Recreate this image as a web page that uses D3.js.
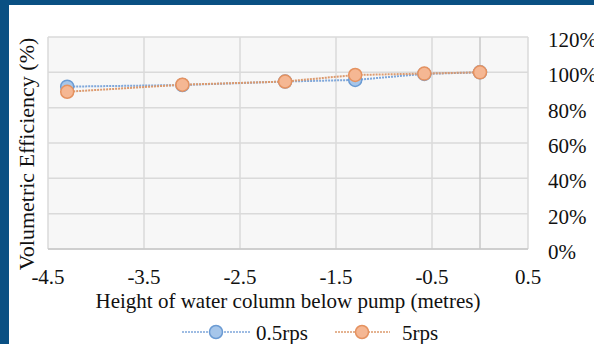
<!DOCTYPE html>
<html>
<head>
<meta charset="utf-8">
<script src="https://cdn.jsdelivr.net/npm/d3@7"></script>
<style>
  body { margin: 0; background: #fff; }
  text { font-family: "Liberation Serif", "Times New Roman", serif; fill: #111; }
</style>
</head>
<body>
<div id="chart"></div>
<script>
// chart data
var heights = [-4.3, -3.1, -2.03, -1.3, -0.58, 0];
var eff05 = [91.9, 92.8, 94.8, 95.7, 99.1, 100];
var eff5 = [89.0, 93.0, 94.8, 98.5, 99.3, 100];
var xTicks = [-4.5, -3.5, -2.5, -1.5, -0.5, 0.5];
var yTicks = [0, 20, 40, 60, 80, 100, 120];
var seriesNames = ["0.5rps", "5rps"];

var W = 594, H = 344;
var plot = {left: 48, right: 528, top: 37, bottom: 249};

var svg = d3.select("#chart").append("svg")
  .attr("width", W)
  .attr("height", H);

// blue frame (left + top)
svg.append("rect").attr("x", 0).attr("y", 0).attr("width", W).attr("height", H).attr("fill", "#0a5083");
svg.append("rect").attr("x", 9).attr("y", 5).attr("width", W - 9).attr("height", H - 5).attr("fill", "#fff");

var x = d3.scaleLinear().domain([-4.5, 0.5]).range([plot.left, plot.right]);
var y = d3.scaleLinear().domain([0, 120]).range([plot.bottom, plot.top]);

// plot background
svg.append("rect")
  .attr("x", plot.left).attr("y", plot.top)
  .attr("width", plot.right - plot.left).attr("height", plot.bottom - plot.top)
  .attr("fill", "#f7f7f7");

// gridlines
svg.append("g").selectAll("line").data(yTicks).enter().append("line")
  .attr("x1", plot.left).attr("x2", plot.right)
  .attr("y1", d => y(d)).attr("y2", d => y(d))
  .attr("stroke", "#dadada").attr("stroke-width", 1.5);
svg.append("g").selectAll("line").data(xTicks).enter().append("line")
  .attr("x1", d => x(d)).attr("x2", d => x(d))
  .attr("y1", plot.top).attr("y2", plot.bottom)
  .attr("stroke", "#dadada").attr("stroke-width", 1.5);

// value axis line crosses at 0, bottom axis line
svg.append("line")
  .attr("x1", x(0)).attr("x2", x(0)).attr("y1", plot.top).attr("y2", plot.bottom)
  .attr("stroke", "#c8c8c8").attr("stroke-width", 1.5);
svg.append("line")
  .attr("x1", plot.left).attr("x2", plot.right).attr("y1", y(0)).attr("y2", y(0))
  .attr("stroke", "#c8c8c8").attr("stroke-width", 1.5);

// tick labels (plain hyphen for minus, like the original)
svg.append("g").selectAll("text").data(xTicks).enter().append("text")
  .attr("x", d => x(d)).attr("y", 284)
  .attr("text-anchor", "middle")
  .style("font-size", "21px")
  .text(d => d.toFixed(1));

svg.append("g").selectAll("text").data(yTicks).enter().append("text")
  .attr("x", 548).attr("y", d => y(d) + 10)
  .style("font-size", "21px")
  .text(d => d + "%");

// axis titles
svg.append("text")
  .attr("x", (plot.left + plot.right) / 2).attr("y", 308)
  .attr("text-anchor", "middle")
  .style("font-size", "21px")
  .text("Height of water column below pump (metres)");

svg.append("text")
  .attr("transform", "translate(34,154) rotate(-90)")
  .attr("text-anchor", "middle")
  .style("font-size", "22px")
  .text("Volumetric Efficiency (%)");

// series
var series = [
  {name: seriesNames[0], values: eff05, line: "#7fa7da", fill: "#a6c6ea", stroke: "#6b9bd3"},
  {name: seriesNames[1], values: eff5, line: "#dc9a6e", fill: "#f5b793", stroke: "#e59260"}
];

var lineGen = d3.line().x(d => x(d[0])).y(d => y(d[1]));

series.forEach(function(s) {
  var pts = heights.map((h, i) => [h, s.values[i]]);
  svg.append("path")
    .datum(pts)
    .attr("d", lineGen)
    .attr("fill", "none")
    .attr("stroke", s.line)
    .attr("stroke-width", 2)
    .attr("stroke-dasharray", "2,1");
  svg.append("g").selectAll("circle").data(pts).enter().append("circle")
    .attr("cx", d => x(d[0])).attr("cy", d => y(d[1]))
    .attr("r", 6.5)
    .attr("fill", s.fill)
    .attr("stroke", s.stroke)
    .attr("stroke-width", 1.5);
});

// legend
var legend = [
  {x0: 182, x1: 250, cx: 216, tx: 256},
  {x0: 335, x1: 390, cx: 362, tx: 402}
];
legend.forEach(function(l, i) {
  var s = series[i];
  svg.append("line")
    .attr("x1", l.x0).attr("x2", l.x1).attr("y1", 332).attr("y2", 332)
    .attr("stroke", s.line).attr("stroke-width", 1.5).attr("stroke-dasharray", "2,1");
  svg.append("circle")
    .attr("cx", l.cx).attr("cy", 332).attr("r", 6.5)
    .attr("fill", s.fill).attr("stroke", s.stroke).attr("stroke-width", 1.5);
  svg.append("text")
    .attr("x", l.tx).attr("y", 340)
    .style("font-size", "21px")
    .text(s.name);
});
</script>
</body>
</html>
